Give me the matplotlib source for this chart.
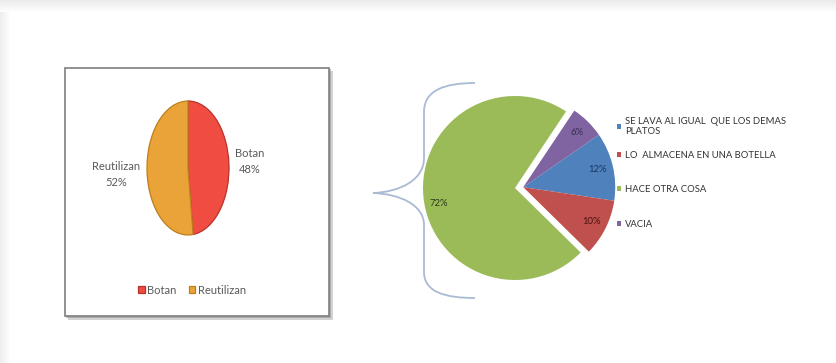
import matplotlib
matplotlib.use("Agg")
import matplotlib.pyplot as plt
import matplotlib.patches as patches
from matplotlib.path import Path
import numpy as np

plt.rcParams['font.family'] = ['Lato', 'DejaVu Sans']

# Pie 1: what they do with the container
uso_labels = ['Botan', 'Reutilizan']
uso_vals = [48, 52]
uso_colors = ['#f04c42', '#e9a338']
uso_edges = ['#b8322a', '#c07e1c']

# Pie 2: breakdown of those who reuse
reuso_labels = ['SE LAVA AL IGUAL  QUE LOS DEMAS\nPLATOS', 'LO  ALMACENA EN UNA BOTELLA',
                'HACE OTRA COSA', 'VACIA']
reuso_vals = [12, 10, 72, 6]
reuso_colors = ['#4f81bd', '#c0504d', '#9bbb59', '#8064a2']
reuso_txt = ['#1d3560', '#4a1210', '#2f3a15', '#3a2a55']
separados = [True, True, False, True]

W, H = 836, 363
fig = plt.figure(figsize=(W / 100, H / 100), dpi=100)
fig.patch.set_facecolor('white')


def px_axes(x0, y0, x1, y1):
    # axes placed by pixel box (top-left origin)
    return fig.add_axes([x0 / W, 1 - y1 / H, (x1 - x0) / W, (y1 - y0) / H])


# background decorations in pixel units
bg = fig.add_axes([0, 0, 1, 1], zorder=0)
bg.set_xlim(0, W)
bg.set_ylim(H, 0)
bg.axis('off')
for i in range(12):
    g = 0.92 + 0.08 * i / 12
    bg.add_patch(patches.Rectangle((0, i), W, 1, color=(g, g, g), lw=0))
for i in range(10):
    g = 0.93 + 0.07 * i / 10
    bg.add_patch(patches.Rectangle((i, 12), 1, H - 12, color=(g, g, g), lw=0))

# left chart box with shadow
bg.add_patch(patches.Rectangle((68, 71), 265, 249, color='#b5b5b5', lw=0, alpha=0.6))
bg.add_patch(patches.Rectangle((66, 69), 265, 249, color='#8a8a8a', lw=0, alpha=0.5))
bg.add_patch(patches.Rectangle((65, 68), 264, 248, facecolor='white', edgecolor='#7f7f7f', lw=1.2))

# curly brace joining the two charts
verts = [(475, 83), (445, 83), (424, 90), (424, 112),
         (424, 158),
         (424, 180), (400, 192), (373, 193),
         (400, 194), (424, 205), (424, 225),
         (424, 272),
         (424, 292), (445, 298), (475, 298)]
codes = [Path.MOVETO] + [Path.CURVE4] * 3 + [Path.LINETO] + [Path.CURVE4] * 6 \
    + [Path.LINETO] + [Path.CURVE4] * 3
bg.add_patch(patches.PathPatch(Path(verts, codes), facecolor='none',
                               edgecolor='#a9bbd3', lw=1.3))

# ---- pie 1 (drawn as an ellipse) ----
ax1 = px_axes(147, 101, 229, 235)
w1, t1 = ax1.pie(uso_vals, colors=uso_colors, startangle=90, counterclock=False,
                 labels=[f"{l}\n{v}%" for l, v in zip(uso_labels, uso_vals)],
                 labeldistance=1.5, wedgeprops=dict(lw=0.9),
                 textprops=dict(fontsize=8, color='#595959', linespacing=1.5))
for w, ec in zip(w1, uso_edges):
    w.set_edgecolor(ec)
for t in t1:
    t.set_ha('center')
    t.set_va('center')
# the left label sits a bit further out
x, y = t1[1].get_position()
t1[1].set_position((x * 1.17, y))
ax1.set_aspect('auto')
ax1.set_xlim(-1, 1)
ax1.set_ylim(-1, 1)

fig.legend(w1, uso_labels, loc='center', bbox_to_anchor=(192 / W, 1 - 290 / H),
           ncol=2, frameon=False, fontsize=8, handlelength=0.6, handleheight=0.6,
           handletextpad=0.2, columnspacing=1.1, labelcolor='#595959')

# ---- pie 2 with three slices pulled out together ----
ax2 = px_axes(423, 96, 607, 280)
w2, t2, p2 = ax2.pie(reuso_vals, colors=reuso_colors, startangle=34.7, counterclock=False,
                     autopct='%1.0f%%', pctdistance=0.83,
                     textprops=dict(fontsize=6.8))
ang = np.deg2rad(6)
off = np.array([np.cos(ang), np.sin(ang)]) * 0.09
for w, p, c, s in zip(w2, p2, reuso_txt, separados):
    p.set_color(c)
    if s:
        w.set_center(tuple(off))
        x, y = p.get_position()
        p.set_position((x + off[0], y + off[1]))
# big slice label drops a little below its bisector
x, y = p2[2].get_position()
p2[2].set_position((x, y - 0.08))
ax2.set_xlim(-1, 1)
ax2.set_ylim(-1, 1)
ax2.set_aspect('equal')

# one legend row per slice, spaced like the original layout
rows_y = [111, 145, 179, 214]
for w, lab, yy in zip(w2, reuso_labels, rows_y):
    fig.legend([w], [lab], loc='upper left', bbox_to_anchor=(611 / W, 1 - yy / H),
               frameon=False, fontsize=6.8, handlelength=0.45, handleheight=0.45,
               handletextpad=0.4, labelcolor='#333333', borderpad=0.1,
               prop=dict(size=6.8, stretch='condensed'))

fig.savefig('out.png', dpi=100)
